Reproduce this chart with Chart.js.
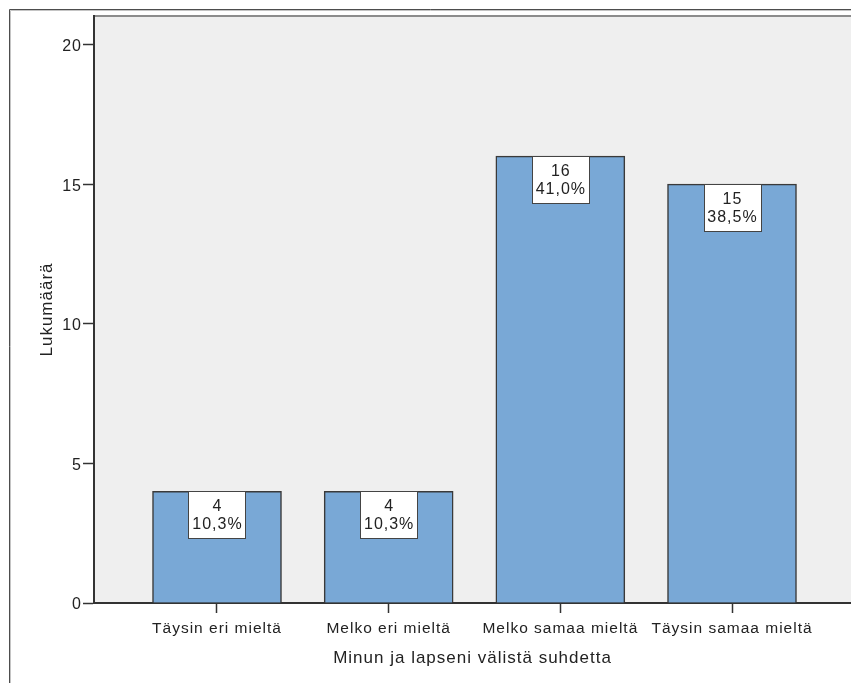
<!DOCTYPE html>
<html>
<head>
<meta charset="utf-8">
<script src="https://cdn.jsdelivr.net/npm/chart.js@4.4.1/dist/chart.umd.min.js"></script>
<style>
  html, body { margin: 0; padding: 0; background: #ffffff; }
  canvas { display: block; }
</style>
</head>
<body>
<canvas id="chart" width="851" height="683"></canvas>
<script>
// Response categories and their counts
const categories = ['Täysin eri mieltä', 'Melko eri mieltä', 'Melko samaa mieltä', 'Täysin samaa mieltä'];
const counts = [4, 4, 16, 15];
const yTicks = [0, 5, 10, 15, 20];
const xTitle = 'Minun ja lapseni välistä suhdetta';
const yTitle = 'Lukumäärä';

const FONT = '"Liberation Sans", Arial, sans-serif';
const TEXT = '#222222';
const total = counts.reduce((a, b) => a + b, 0);
const percentLabel = v => (v / total * 100).toFixed(1).replace('.', ',') + '%';

// White page, outer frame, grey plot panel with its top edge
const framePlugin = {
  id: 'framePlugin',
  beforeDraw(chart) {
    const { ctx, chartArea: a, width, height } = chart;
    ctx.save();
    ctx.fillStyle = '#ffffff';
    ctx.fillRect(0, 0, width, height);
    ctx.lineWidth = 1;
    ctx.strokeStyle = '#4d4d4d';
    ctx.beginPath();
    ctx.moveTo(9.5, height); ctx.lineTo(9.5, 9.5); ctx.lineTo(width, 9.5);
    ctx.stroke();
    ctx.strokeStyle = '#c4c4c4';
    ctx.beginPath();
    ctx.moveTo(10.5, height); ctx.lineTo(10.5, 10.5); ctx.lineTo(width, 10.5);
    ctx.stroke();
    ctx.fillStyle = '#efefef';
    ctx.fillRect(a.left, a.top, a.right - a.left, a.bottom - a.top);
    ctx.strokeStyle = '#8c8c8c';
    ctx.lineWidth = 2;
    ctx.beginPath();
    ctx.moveTo(a.left, a.top); ctx.lineTo(a.right, a.top);
    ctx.stroke();
    ctx.restore();
    ctx.letterSpacing = '1px';
  }
};

// Count and percentage boxes at the top of each bar
const valueBoxes = {
  id: 'valueBoxes',
  afterDatasetsDraw(chart) {
    const ctx = chart.ctx;
    const meta = chart.getDatasetMeta(0);
    ctx.save();
    ctx.letterSpacing = '1px';
    meta.data.forEach((bar, i) => {
      const w = 57, h = 47;
      const x = Math.round(bar.x - w / 2) + 0.5;
      const y = Math.round(bar.y) + 0.5;
      ctx.fillStyle = '#ffffff';
      ctx.fillRect(x, y, w, h);
      ctx.strokeStyle = '#444444';
      ctx.lineWidth = 1;
      ctx.strokeRect(x, y, w, h);
      ctx.fillStyle = TEXT;
      ctx.font = '16px ' + FONT;
      ctx.textAlign = 'center';
      ctx.textBaseline = 'middle';
      ctx.fillText(String(counts[i]), bar.x + 0.5, bar.y + 15);
      ctx.fillText(percentLabel(counts[i]), bar.x + 0.5, bar.y + 33);
    });
    ctx.restore();
  }
};

new Chart(document.getElementById('chart'), {
  type: 'bar',
  data: {
    datasets: [{
      data: counts.map((v, i) => ({ x: i, y: v })),
      backgroundColor: '#79a8d6',
      borderColor: '#3a3a3a',
      borderWidth: 1.5,
      barThickness: 129
    }]
  },
  options: {
    responsive: false,
    animation: false,
    devicePixelRatio: 1,
    layout: { padding: { top: 16, left: 0, right: 0, bottom: 0 } },
    plugins: { legend: { display: false }, tooltip: { enabled: false } },
    scales: {
      x: {
        type: 'linear',
        offset: false,
        min: -0.7165,
        max: 3.6932,
        afterBuildTicks: s => { s.ticks = categories.map((_, i) => ({ value: i })); },
        afterFit: s => { s.height = 80; },
        grid: { offset: false, drawOnChartArea: false, tickLength: 10, tickColor: '#333333', tickWidth: 1.5 },
        border: { color: '#333333', width: 2 },
        ticks: {
          autoSkip: false, maxRotation: 0, minRotation: 0, padding: 6, color: TEXT,
          font: { family: FONT, size: 15.5 },
          callback: v => categories[v] ?? ''
        },
        title: {
          display: true, text: xTitle, color: TEXT,
          font: { family: FONT, size: 17 },
          padding: { top: 0, bottom: 14 }
        }
      },
      y: {
        min: 0,
        max: 21.02,
        afterBuildTicks: s => { s.ticks = yTicks.map(v => ({ value: v })); },
        afterFit: s => { s.width = 94; },
        grid: { drawOnChartArea: false, tickLength: 11, tickColor: '#333333', tickWidth: 1.5 },
        border: { color: '#333333', width: 2 },
        ticks: {
          padding: 1, labelOffset: 2, color: TEXT,
          font: { family: FONT, size: 16 }
        },
        title: {
          display: true, text: yTitle, color: TEXT,
          font: { family: FONT, size: 17 },
          padding: { top: 37, bottom: 0 }
        }
      }
    }
  },
  plugins: [framePlugin, valueBoxes]
});
</script>
</body>
</html>
